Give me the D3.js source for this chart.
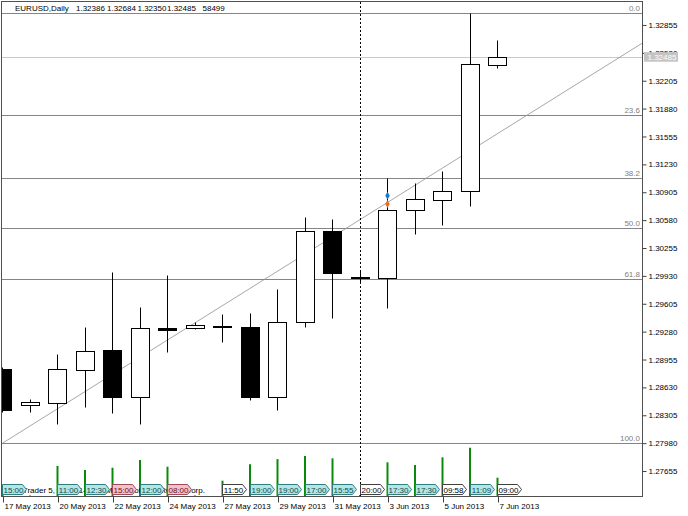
<!DOCTYPE html>
<html><head><meta charset="utf-8">
<script src="https://cdn.jsdelivr.net/npm/d3@7"></script>
<style>
body{margin:0;background:#fff}
svg{display:block}
text{font-family:"Liberation Sans",Arial,sans-serif;font-size:8px}
</style>
</head><body>
<svg id="c" width="688" height="516"></svg>
<script>
// ---- data ----
const dates = ["2013-05-17","2013-05-19","2013-05-20","2013-05-21","2013-05-22","2013-05-23","2013-05-24","2013-05-26","2013-05-27","2013-05-28","2013-05-29","2013-05-30","2013-05-31","2013-06-02","2013-06-03","2013-06-04","2013-06-05","2013-06-06","2013-06-07"];
const opens  = [1.28848,1.28430,1.28448,1.28829,1.29069,1.28521,1.29328,1.29322,1.29348,1.29337,1.28521,1.29392,1.30453,1.29912,1.29902,1.30694,1.30815,1.30916,1.32386];
const highs  = [1.28870,1.28491,1.29015,1.29337,1.29979,1.29571,1.29940,1.29388,1.29482,1.29493,1.29777,1.30613,1.30589,1.29990,1.31075,1.31009,1.31153,1.32991,1.32684];
const lows   = [1.28340,1.28346,1.28199,1.28404,1.28328,1.28206,1.29046,1.29316,1.29155,1.28486,1.28366,1.29330,1.29439,1.29862,1.29552,1.30415,1.30523,1.30745,1.32350];
const closes = [1.28366,1.28456,1.28844,1.29057,1.28518,1.29322,1.29299,1.29354,1.29334,1.28518,1.29392,1.30457,1.29960,1.29905,1.30698,1.30823,1.30919,1.32397,1.32485];
const volumes = [30000,2000,96000,83000,90500,115000,93700,2000,49000,102000,118000,128000,120500,3000,107700,99000,123700,154400,58499];
const priceTicks = [1.27655,1.27980,1.28305,1.28630,1.28955,1.29280,1.29605,1.29930,1.30255,1.30580,1.30905,1.31230,1.31555,1.31880,1.32205,1.32530,1.32855];
const dateTicks = ["2013-05-17","2013-05-20","2013-05-22","2013-05-24","2013-05-27","2013-05-29","2013-05-31","2013-06-03","2013-06-05","2013-06-07"];
const dateTickLabels = ["17 May 2013","20 May 2013","22 May 2013","24 May 2013","27 May 2013","29 May 2013","31 May 2013","3 Jun 2013","5 Jun 2013","7 Jun 2013"];
const fibLevels = [0, 23.6, 38.2, 50.0, 61.8, 100.0];
const fibHigh = 1.32991, fibLow = 1.27980;
const fibIdxLow = 0, fibIdxHigh = 25;
const eventDates = ["2013-05-17","2013-05-20","2013-05-21","2013-05-22","2013-05-23","2013-05-24","2013-05-27","2013-05-28","2013-05-29","2013-05-30","2013-05-31","2013-06-02","2013-06-03","2013-06-04","2013-06-05","2013-06-06","2013-06-07"];
const eventTimes = ["15:00","11:00","12:30","15:00","12:00","08:00","11:50","19:00","19:00","17:00","15:55","20:00","17:30","17:30","09:58","11:09","09:00"];
const eventKinds = ["c","c","c","p","c","p","w","c","c","c","c","w","c","c","w","c","w"];
const markerPrices = [1.30865, 1.30768];
const markerColors = ["#1f78c8", "#e0702a"];
const markerDate = "2013-06-03";
const separatorDate = "2013-06-02";
const titleParts = ["EURUSD,Daily", "1.32386", "1.32684", "1.32350", "1.32485", "58499"];
const titleX = [15, 76, 107, 137.5, 167, 202.5];
const watermark = "MetaTrader 5, \u00A9 2001-2013 MetaQuotes Software Corp.";

// ---- layout ----
const L = 2, R = 642, T = 2, B = 496;
const svg = d3.select("#c");
const n = dates.length;
const x = d3.scalePoint().domain(dates).range([2.5, 2.5 + (n - 1) * 27.5]);
const xi = d3.scaleLinear().domain([0, n - 1]).range([x(dates[0]), x(dates[n - 1])]);
const y = d3.scaleLinear().domain([1.27364, 1.33111]).range([B, 3]);
const vy = d3.scaleLinear().domain([0, 160000]).range([B, B - 50]);
const cx = d => Math.floor(x(d)) + 0.5;
const cy = p => Math.round(y(p)) + 0.5;

svg.append("defs").append("clipPath").attr("id", "clip")
  .append("rect").attr("x", L).attr("y", T).attr("width", R - L).attr("height", B - T);
const plot = svg.append("g").attr("clip-path", "url(#clip)");

// fib levels
const fibY = lv => fibHigh - lv / 100 * (fibHigh - fibLow);
plot.selectAll(".fib").data(fibLevels).join("line")
  .attr("x1", L).attr("x2", R)
  .attr("y1", d => cy(fibY(d))).attr("y2", d => cy(fibY(d)))
  .attr("stroke", "#858585").attr("stroke-width", 1);
plot.selectAll(".fibt").data(fibLevels).join("text")
  .attr("x", 640).attr("y", d => cy(fibY(d)) - 2.5)
  .attr("text-anchor", "end").attr("fill", "#808080")
  .text(d => d.toFixed(1));

// current price line
plot.append("line").attr("x1", L).attr("x2", R)
  .attr("y1", cy(closes[n - 1])).attr("y2", cy(closes[n - 1]))
  .attr("stroke", "#c8c8c8");

// diagonal fib trend line
plot.append("line")
  .attr("x1", xi(fibIdxLow)).attr("y1", y(fibLow))
  .attr("x2", xi(fibIdxHigh)).attr("y2", y(fibHigh))
  .attr("stroke", "#909090").attr("stroke-width", 0.8);

// volumes
plot.selectAll(".vol").data(dates).join("line")
  .attr("x1", d => x(d)).attr("x2", d => x(d))
  .attr("y1", B).attr("y2", (d, i) => vy(volumes[i]))
  .attr("stroke", "#0a8a0a").attr("stroke-width", 2);

// separator
plot.append("line")
  .attr("x1", cx(separatorDate)).attr("x2", cx(separatorDate))
  .attr("y1", T).attr("y2", B)
  .attr("stroke", "#000").attr("stroke-dasharray", "2,2");

// candles
const cg = plot.selectAll(".candle").data(dates).join("g");
cg.append("line")
  .attr("x1", d => cx(d)).attr("x2", d => cx(d))
  .attr("y1", (d, i) => cy(highs[i])).attr("y2", (d, i) => cy(lows[i]))
  .attr("stroke", "#000");
cg.append("rect")
  .attr("x", d => cx(d) - 9)
  .attr("width", 18)
  .attr("y", (d, i) => cy(Math.max(opens[i], closes[i])))
  .attr("height", (d, i) => Math.max(1, cy(Math.min(opens[i], closes[i])) - cy(Math.max(opens[i], closes[i]))))
  .attr("fill", (d, i) => closes[i] >= opens[i] ? "#fff" : "#000")
  .attr("stroke", "#000");

// trade markers
plot.selectAll(".mk").data(markerPrices).join("path")
  .attr("transform", d => `translate(${x(markerDate)},${y(d)})`)
  .attr("d", d3.symbol(d3.symbolDiamond, 18))
  .attr("fill", (d, i) => markerColors[i]);

// watermark
plot.append("text").attr("x", 5).attr("y", 493).attr("fill", "#000").text(watermark);

// event tags
const kindFill = {c: "#b4e6e6", p: "#f2c2ca", w: "#ffffff"};
const kindStroke = {c: "#2f7f80", p: "#a04a5a", w: "#404040"};
const kindText = {c: "#0c4a4a", p: "#701020", w: "#000"};
const eg = plot.selectAll(".ev").data(eventDates).join("g")
  .attr("transform", d => `translate(${cx(d)},484.5)`);
eg.append("path").attr("d", "M0,0H20L24,5L20,10H0Z")
  .attr("fill", (d, i) => kindFill[eventKinds[i]])
  .attr("stroke", (d, i) => kindStroke[eventKinds[i]]);
eg.append("text").attr("x", 11).attr("y", 8).attr("text-anchor", "middle")
  .attr("fill", (d, i) => kindText[eventKinds[i]])
  .text((d, i) => eventTimes[i]);

// frame
svg.append("rect").attr("x", 1.5).attr("y", 1.5).attr("width", R - 1).attr("height", B - 1)
  .attr("fill", "none").attr("stroke", "#505050");

// title
svg.append("g").selectAll("text").data(titleParts).join("text")
  .attr("x", (d, i) => titleX[i]).attr("y", 10.5).attr("fill", "#000").text(d => d);

// right axis
const ya = d3.axisRight(y).tickValues(priceTicks).tickSize(4).tickPadding(2)
  .tickFormat(d3.format(".5f"));
svg.append("g").attr("transform", `translate(${R + 0.5},0)`).call(ya)
  .call(g => g.select(".domain").remove())
  .call(g => g.selectAll("line").attr("stroke", "#404040"))
  .call(g => g.selectAll("text").attr("font-size", 8).attr("font-family", "Liberation Sans, Arial").attr("fill", "#000"));

// current price label
const lp = closes[n - 1];
svg.append("rect").attr("x", 644).attr("y", y(lp) - 4.5).attr("width", 34).attr("height", 9.5).attr("fill", "#c4c4c4");
svg.append("text").attr("x", 647.5).attr("y", y(lp) + 3).attr("fill", "#fff").text(d3.format(".5f")(lp));

// bottom axis
const xa = d3.axisBottom(x).tickValues(dateTicks).tickSize(6).tickFormat((d, i) => dateTickLabels[i]);
svg.append("g").attr("transform", `translate(0.5,${B + 0.5})`).call(xa)
  .call(g => g.select(".domain").remove())
  .call(g => g.selectAll("line").attr("stroke", "#404040"))
  .call(g => g.selectAll("text").attr("text-anchor", "start").attr("dx", 1).attr("y", 7)
    .attr("font-size", 8).attr("font-family", "Liberation Sans, Arial").attr("fill", "#000"));
</script>
</body></html>
